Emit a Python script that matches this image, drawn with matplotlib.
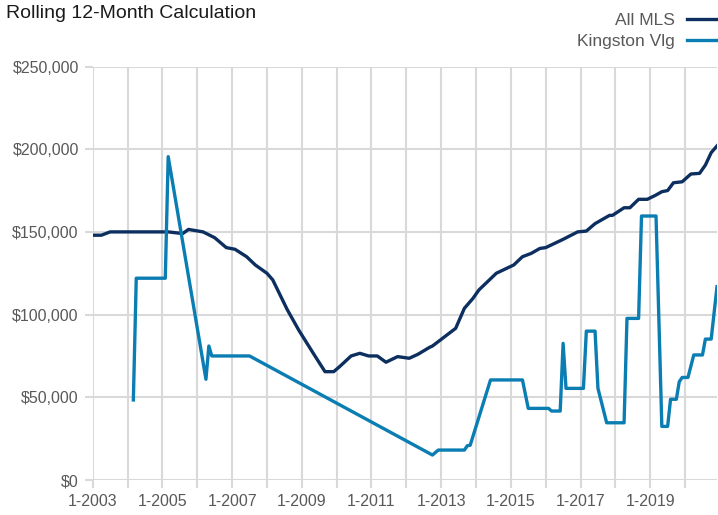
import numpy as np
import matplotlib
matplotlib.use("Agg")
import matplotlib.pyplot as plt

plt.rcParams['font.family'] = ['Liberation Sans Narrow', 'Liberation Sans', 'DejaVu Sans']

# Rolling 12-month values (month, value)
mls_months = ["2003-01", "2003-04", "2003-07", "2005-03", "2005-08", "2005-10", "2006-03",
              "2006-07", "2006-11", "2007-02", "2007-06", "2007-09", "2008-01", "2008-03",
              "2008-08", "2008-12", "2009-05", "2009-09", "2009-12", "2010-02", "2010-06",
              "2010-09", "2010-12", "2011-03", "2011-06", "2011-10", "2012-02", "2012-05",
              "2012-09", "2012-10", "2013-01", "2013-06", "2013-09", "2013-12", "2014-02",
              "2014-08", "2015-02", "2015-05", "2015-08", "2015-11", "2016-01", "2016-07",
              "2016-12", "2017-03", "2017-06", "2017-08", "2017-11", "2017-12", "2018-04",
              "2018-06", "2018-09", "2018-12", "2019-03", "2019-05", "2019-07", "2019-09",
              "2019-12", "2020-03", "2020-06", "2020-08", "2020-10", "2020-12"]
mls_values = [148000, 148000, 150000, 150000, 149000, 151500, 150000,
              146500, 140500, 139500, 135000, 130000, 125000, 121000,
              103000, 90500, 76500, 65500, 65500, 68500, 75000,
              76600, 75000, 75000, 71200, 74600, 73600, 76000,
              80200, 81000, 85000, 91700, 103800, 109900, 114900,
              125000, 130000, 135000, 137000, 140000, 140500, 145500,
              150000, 150500, 155000, 157000, 160000, 160000, 164600,
              164600, 169700, 169700, 172300, 174300, 175000, 179700,
              180300, 185000, 185400, 190400, 197900, 202000]

kv_months = ["2004-03", "2004-04", "2005-02", "2005-03", "2006-04", "2006-05", "2006-06",
             "2007-07", "2012-10", "2012-12", "2013-09", "2013-10", "2013-11", "2014-06",
             "2015-05", "2015-07", "2016-02", "2016-03", "2016-06", "2016-07", "2016-08",
             "2017-02", "2017-03", "2017-06", "2017-07", "2017-10", "2018-04", "2018-05",
             "2018-09", "2018-10", "2019-03", "2019-05", "2019-07", "2019-08", "2019-10",
             "2019-11", "2019-12", "2020-02", "2020-04", "2020-07", "2020-08", "2020-10",
             "2020-12"]
kv_values = [48400, 122000, 122000, 195500, 60900, 81000, 75000,
             75000, 15100, 18100, 18100, 20700, 21000, 60500,
             60500, 43300, 43300, 41700, 41700, 82600, 55400,
             55400, 90000, 90000, 55400, 34600, 34600, 97700,
             97700, 159600, 159600, 32400, 32400, 48800, 48800,
             59400, 62000, 62000, 75600, 75600, 85200, 85200,
             116900]

years = list(range(2003, 2021))
year_labels = [f"1-{y}" if y % 2 == 1 else "" for y in years]
y_ticks = [0, 50000, 100000, 150000, 200000, 250000]


def to_year(months):
    # "YYYY-MM" -> decimal year
    return np.array([int(m[:4]) + (int(m[5:]) - 1) / 12 for m in months])


grid_col = '#d9d9d9'
text_col = '#595959'

fig = plt.figure(figsize=(7.18, 5.15), dpi=100)
ax = fig.add_axes([92.7 / 718, 35 / 515, (717 - 92.7) / 718, (480 - 66.5) / 515])

ax.plot(to_year(mls_months), mls_values, color='#0c2f5f', lw=2.4, label="All MLS",
        solid_joinstyle='round', zorder=3)
ax.plot(to_year(kv_months), kv_values, color='#0a7db2', lw=2.4, label="Kingston Vlg",
        solid_joinstyle='round', zorder=3)

ax.set_xlim(2003, 2020 + 11 / 12)
ax.set_ylim(0, 250000)
ax.set_xticks(years)
ax.set_xticklabels(year_labels)
ax.set_yticks(y_ticks)
ax.set_yticklabels(["$0" if v == 0 else f"${v:,}" for v in y_ticks])

ax.grid(True, color=grid_col, lw=1.5)
ax.set_axisbelow(True)
for s in ax.spines.values():
    s.set_visible(False)
ax.tick_params(axis='both', color=grid_col, length=6, width=1.5, labelcolor=text_col,
               labelsize=11.5, pad=4)

fig.text(0.008, 1 - 5 / 515, "Rolling 12-Month Calculation", fontsize=14, va='top', ha='left',
         color='#1a1a1a')

leg = ax.legend(loc='upper right', bbox_to_anchor=(1.0, 1 - 13 / 515), bbox_transform=fig.transFigure,
                frameon=False, markerfirst=False, fontsize=12.5, handlelength=1.8,
                handletextpad=0.7, labelspacing=0.35, borderaxespad=0, borderpad=0)
for t in leg.get_texts():
    t.set_color(text_col)

fig.savefig("out.png", dpi=100)
